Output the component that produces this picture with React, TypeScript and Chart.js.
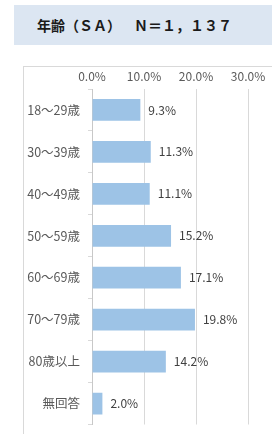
import React, { useEffect, useRef } from "react";
import { Chart, registerables } from "chart.js";

Chart.register(...registerables);

const TITLE_LEFT = "年齢（ＳＡ）";
const TITLE_RIGHT = "Ｎ＝１，１３７";
const categories = ["18～29歳", "30～39歳", "40～49歳", "50～59歳", "60～69歳", "70～79歳", "80歳以上", "無回答"];
const values = [9.3, 11.3, 11.1, 15.2, 17.1, 19.8, 14.2, 2.0];
const xTicks = [0, 10, 20, 30];

const FONT = "'Noto Sans CJK JP', 'Noto Sans', sans-serif";

export default function App() {
  const ref = useRef<HTMLCanvasElement | null>(null);

  useEffect(() => {
    if (!ref.current) return;
    const labelPlugin = {
      id: "valueLabels",
      afterDatasetsDraw(chart: any) {
        const ctx = chart.ctx;
        const meta = chart.getDatasetMeta(0);
        ctx.save();
        ctx.font = `12px ${FONT}`;
        ctx.fillStyle = "#404040";
        ctx.textAlign = "left";
        ctx.textBaseline = "middle";
        meta.data.forEach((bar: any, i: number) => {
          ctx.fillText(values[i].toFixed(1) + "%", bar.x + 8, bar.y);
        });
        ctx.restore();
      },
    };
    const chart = new Chart(ref.current, {
      type: "bar",
      data: {
        labels: categories,
        datasets: [
          {
            data: values,
            backgroundColor: "#9dc3e6",
            borderColor: "#9dc3e6",
            borderWidth: 0,
            barPercentage: 0.52,
            categoryPercentage: 1,
          },
        ],
      },
      options: {
        indexAxis: "y",
        animation: false,
        responsive: false,
        maintainAspectRatio: false,
        layout: { padding: { left: 0, right: 24, top: 0, bottom: 3 } },
        plugins: {
          legend: { display: false },
          tooltip: { enabled: false },
        },
        scales: {
          x: {
            position: "top",
            min: 0,
            max: 30,
            afterBuildTicks: (scale: any) => {
              scale.ticks = xTicks.map((v) => ({ value: v }));
            },
            afterFit: (scale: any) => {
              scale.height = 89;
            },
            ticks: {
              padding: 5,
              color: "#595959",
              font: { family: FONT, size: 12 },
              callback: (v: any) => Number(v).toFixed(1) + "%",
            },
            grid: {
              color: "#d9d9d9",
              lineWidth: 1,
              drawTicks: false,
            },
            border: { display: false },
          },
          y: {
            afterFit: (scale: any) => {
              scale.width = 92;
            },
            ticks: {
              padding: 8,
              color: "#595959",
              font: { family: FONT, size: 12.5 },
            },
            grid: {
              offset: true,
              drawOnChartArea: false,
              drawTicks: true,
              tickLength: 4,
              color: "#d9d9d9",
            },
            border: { display: true, color: "#c8c8c8", width: 1 },
          },
        },
      },
      plugins: [labelPlugin],
    } as any);
    return () => chart.destroy();
  }, []);

  const titleStyle: React.CSSProperties = {
    position: "absolute",
    top: 5,
    height: 40,
    lineHeight: "40px",
    fontFamily: FONT,
    fontWeight: "bold",
    fontSize: 14,
    color: "#1a1a1a",
    whiteSpace: "nowrap",
  };

  return (
    <div style={{ position: "absolute", left: 0, top: 0, width: 272, height: 434, overflow: "hidden", background: "#fff" }}>
      <div
        style={{
          position: "absolute",
          left: 14,
          top: 5,
          width: 270,
          height: 40,
          background: "#dce6f2",
        }}
      />
      <div style={{ ...titleStyle, left: 37 }}>{TITLE_LEFT}</div>
      <div style={{ ...titleStyle, left: 134 }}>{TITLE_RIGHT}</div>
      <div
        style={{
          position: "absolute",
          left: 23,
          top: 66,
          width: 300,
          height: 400,
          border: "1px solid #d9d9d9",
          boxSizing: "border-box",
        }}
      />
      <canvas
        ref={ref}
        width={272}
        height={440}
        style={{ position: "absolute", left: 0, top: 0, width: 272, height: 440 }}
      />
    </div>
  );
}
